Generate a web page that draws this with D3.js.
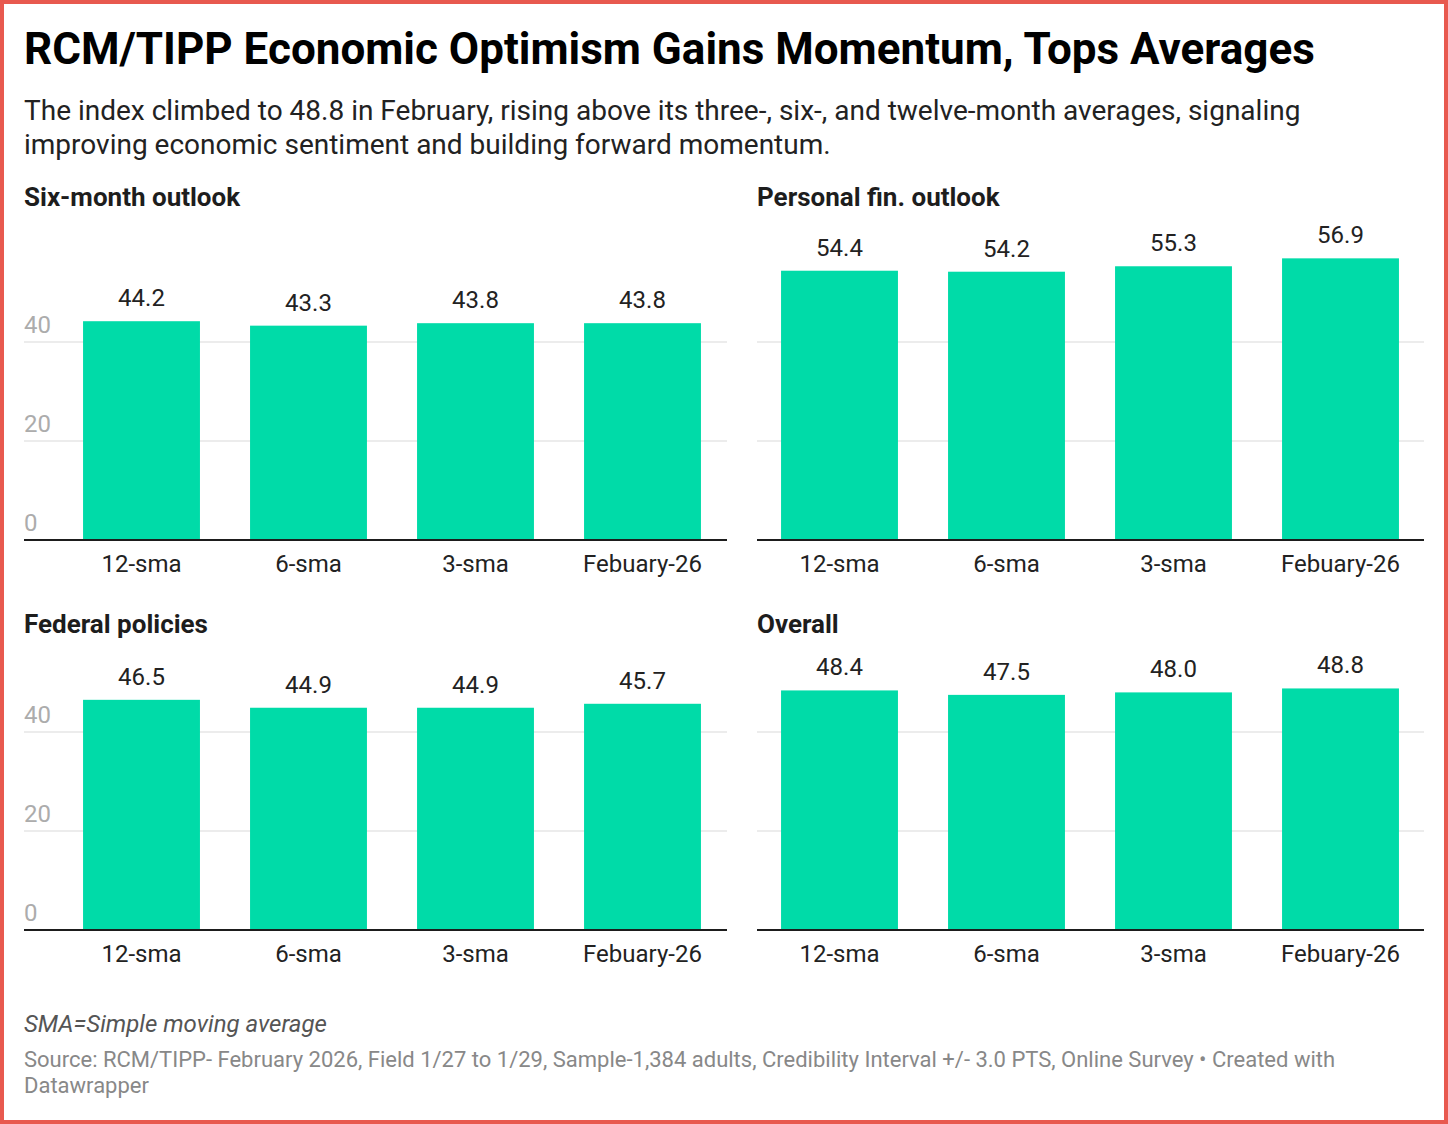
<!DOCTYPE html>
<html>
<head>
<meta charset="utf-8">
<script src="https://cdn.jsdelivr.net/npm/d3@7"></script>
<style>
  html, body { margin: 0; padding: 0; background: #fff; }
  svg { display: block; font-family: Roboto, "Noto Sans", sans-serif; }
</style>
</head>
<body>
<svg id="chart" width="1448" height="1124"></svg>
<script>
// Chart data
const categories = ['12-sma', '6-sma', '3-sma', 'Febuary-26'];
const sixMonthOutlook = [44.2, 43.3, 43.8, 43.8];
const personalFinOutlook = [54.4, 54.2, 55.3, 56.9];
const federalPolicies = [46.5, 44.9, 44.9, 45.7];
const overall = [48.4, 47.5, 48.0, 48.8];
const yTicks = [0, 20, 40];
const panelTitles = ['Six-month outlook', 'Personal fin. outlook', 'Federal policies', 'Overall'];

const svg = d3.select('#chart');
const W = 1448, H = 1124;

// red frame
svg.append('rect')
    .attr('x', 2).attr('y', 2)
    .attr('width', W - 4).attr('height', H - 4)
    .attr('fill', '#fff')
    .attr('stroke', '#e8594f')
    .attr('stroke-width', 4);

// Header
svg.append('text')
    .attr('x', 24).attr('y', 64)
    .attr('font-size', 44).attr('font-weight', 700)
    .attr('fill', '#000')
    .text('RCM/TIPP Economic Optimism Gains Momentum, Tops Averages');

const subLines = [
    'The index climbed to 48.8 in February, rising above its three-, six-, and twelve-month averages, signaling',
    'improving economic sentiment and building forward momentum.'
];
svg.append('g').selectAll('text')
    .data(subLines)
    .enter().append('text')
    .attr('x', 24)
    .attr('y', (d, i) => 120 + i * 34)
    .attr('font-size', 28)
    .attr('fill', '#222')
    .text(d => d);

// Panels
const columns = [
    { x0: 24, x1: 727, barStart: 58, barEnd: 726, showTicks: true },
    { x0: 757, x1: 1424, barStart: 756, barEnd: 1424, showTicks: false }
];
const rows = [
    { titleY: 206, base: 540 },
    { titleY: 633, base: 930 }
];
const panelValues = [sixMonthOutlook, personalFinOutlook, federalPolicies, overall];

panelValues.forEach((values, i) => {
    const col = columns[i % 2];
    const row = rows[Math.floor(i / 2)];
    const g = svg.append('g');

    const x = d3.scaleBand()
        .domain(categories)
        .range([col.barStart, col.barEnd])
        .paddingInner(0.3)
        .paddingOuter(0.15);

    const y = d3.scaleLinear()
        .domain([0, 40])
        .range([row.base, row.base - 198]);

    g.append('text')
        .attr('x', col.x0).attr('y', row.titleY)
        .attr('font-size', 26).attr('font-weight', 700)
        .attr('fill', '#1d1d1d')
        .text(panelTitles[i]);

    // gridlines
    g.selectAll('line.grid')
        .data(yTicks.filter(t => t > 0))
        .enter().append('line')
        .attr('class', 'grid')
        .attr('x1', col.x0).attr('x2', col.x1)
        .attr('y1', d => y(d)).attr('y2', d => y(d))
        .attr('stroke', '#e6e6e6')
        .attr('stroke-width', 1.5);

    if (col.showTicks) {
        g.selectAll('text.tick')
            .data(yTicks)
            .enter().append('text')
            .attr('class', 'tick')
            .attr('x', col.x0)
            .attr('y', d => y(d) - 9)
            .attr('font-size', 24)
            .attr('fill', '#acacac')
            .text(d => d);
    }

    // bars
    g.selectAll('rect.bar')
        .data(values)
        .enter().append('rect')
        .attr('class', 'bar')
        .attr('x', (d, j) => x(categories[j]))
        .attr('width', x.bandwidth())
        .attr('y', d => y(d))
        .attr('height', d => y(0) - y(d))
        .attr('fill', '#00dba8');

    // value labels
    g.selectAll('text.val')
        .data(values)
        .enter().append('text')
        .attr('class', 'val')
        .attr('x', (d, j) => x(categories[j]) + x.bandwidth() / 2)
        .attr('y', d => y(d) - 15)
        .attr('text-anchor', 'middle')
        .attr('font-size', 24)
        .attr('fill', '#222')
        .text(d => d.toFixed(1));

    // baseline
    g.append('line')
        .attr('x1', col.x0).attr('x2', col.x1)
        .attr('y1', y(0)).attr('y2', y(0))
        .attr('stroke', '#1d1d1d')
        .attr('stroke-width', 2);

    // category labels
    g.selectAll('text.cat')
        .data(categories)
        .enter().append('text')
        .attr('class', 'cat')
        .attr('x', d => x(d) + x.bandwidth() / 2)
        .attr('y', y(0) + 32)
        .attr('text-anchor', 'middle')
        .attr('font-size', 24)
        .attr('fill', '#222')
        .text(d => d);
});

// Footer
svg.append('text')
    .attr('x', 24).attr('y', 1032)
    .attr('font-size', 24).attr('font-style', 'italic')
    .attr('fill', '#555')
    .text('SMA=Simple moving average');

const sourceLines = [
    'Source: RCM/TIPP- February 2026, Field 1/27 to 1/29, Sample-1,384 adults, Credibility Interval +/- 3.0 PTS, Online Survey \u2022 Created with',
    'Datawrapper'
];
svg.append('g').selectAll('text')
    .data(sourceLines)
    .enter().append('text')
    .attr('x', 24)
    .attr('y', (d, i) => 1067 + i * 26)
    .attr('font-size', 22)
    .attr('fill', '#888')
    .text(d => d);
</script>
</body>
</html>
